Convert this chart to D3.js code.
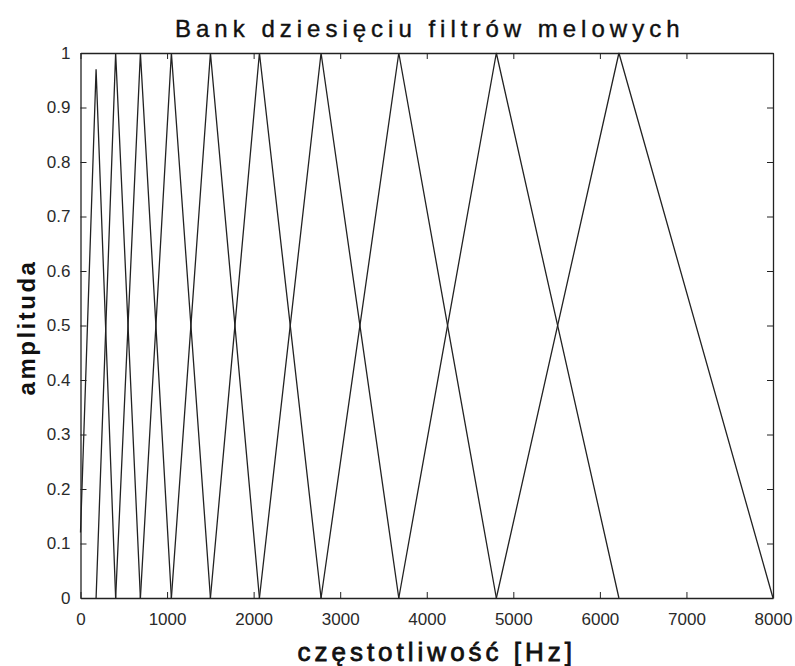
<!DOCTYPE html>
<meta charset="utf-8">
<style>
  body { margin: 0; background: #fff; }
  .filter { fill: none; stroke: #222; stroke-width: 1.3px; }
  .tick text { font-family: "Liberation Sans", Arial, sans-serif; font-size: 17px; fill: #2a2a2a; }
  .title, .axlabel { font-family: "Liberation Sans", Arial, sans-serif; fill: #111; }
</style>
<body>
<div id="chart"></div>
<script src="https://d3js.org/d3.v7.min.js"></script>
<script>
  // filter edge frequencies [Hz] (lo of first ... hi of last)
  var edges = [0, 180, 406, 692, 1050, 1501, 2067, 2779, 3677, 4804, 6220, 8000];
  // peak heights of the ten filters
  var peaks = [0.97, 1, 1, 1, 1, 1, 1, 1, 1, 1];
  // first filter does not start from zero at 0 Hz
  var firstStart = 0.12;
  var xTicks = [0, 1000, 2000, 3000, 4000, 5000, 6000, 7000, 8000];
  var yTicks = [0, 0.1, 0.2, 0.3, 0.4, 0.5, 0.6, 0.7, 0.8, 0.9, 1];

  var margin = { top: 53, right: 22, bottom: 68, left: 80.5 },
    width = 795 - margin.left - margin.right,
    height = 666 - margin.top - margin.bottom;

  var svg = d3.select("#chart").append("svg")
    .attr("width", 795).attr("height", 666);
  var g = svg.append("g").attr("transform", "translate(" + margin.left + "," + margin.top + ")");

  var x = d3.scaleLinear().domain([0, 8000]).range([0, width]);
  var y = d3.scaleLinear().domain([0, 1]).range([height, 0]);

  var filters = peaks.map(function (p, i) {
    return [
      [edges[i], i === 0 ? firstStart : 0],
      [edges[i + 1], p],
      [edges[i + 2], 0]
    ];
  });

  var line = d3.line()
    .x(function (d) { return x(d[0]); })
    .y(function (d) { return y(d[1]); });

  g.selectAll(".filter").data(filters).enter().append("path")
    .attr("class", "filter")
    .attr("d", line);

  // axes, ticks pointing inwards like matlab
  var fmtY = function (d) { return d === 0 || d === 1 ? d3.format("d")(d) : d3.format(".1f")(d); };
  g.append("g").attr("transform", "translate(0," + height + ")")
    .call(d3.axisBottom(x).tickValues(xTicks).tickSizeInner(-6).tickSizeOuter(0).tickPadding(15).tickFormat(d3.format("d")));
  g.append("g")
    .call(d3.axisTop(x).tickValues(xTicks).tickSizeInner(-6).tickSizeOuter(0).tickFormat(""));
  g.append("g")
    .call(d3.axisLeft(y).tickValues(yTicks).tickSizeInner(-6).tickSizeOuter(0).tickPadding(10).tickFormat(fmtY));
  g.append("g").attr("transform", "translate(" + width + ",0)")
    .call(d3.axisRight(y).tickValues(yTicks).tickSizeInner(-6).tickSizeOuter(0).tickFormat(""));

  g.selectAll(".domain").attr("stroke", "#222").attr("stroke-width", 1.3);
  g.selectAll(".tick line").attr("stroke", "#222");

  svg.append("text").attr("class", "title")
    .attr("x", margin.left + width / 2 + 3).attr("y", 37)
    .attr("text-anchor", "middle")
    .style("font-size", "24px").style("letter-spacing", "5px")
    .attr("stroke", "#111").attr("stroke-width", 0.4)
    .text("Bank dziesięciu filtrów melowych");

  svg.append("text").attr("class", "axlabel")
    .attr("x", margin.left + width / 2 + 10).attr("y", 661)
    .attr("text-anchor", "middle")
    .style("font-size", "26px").style("letter-spacing", "4px")
    .attr("stroke", "#111").attr("stroke-width", 0.8)
    .text("częstotliwość [Hz]");

  svg.append("text").attr("class", "axlabel")
    .attr("transform", "translate(35," + (margin.top + height / 2 + 2) + ") rotate(-90)")
    .attr("text-anchor", "middle")
    .style("font-size", "24px").style("font-weight", "bold").style("letter-spacing", "2.5px")
    .text("amplituda");
</script>
</body>
